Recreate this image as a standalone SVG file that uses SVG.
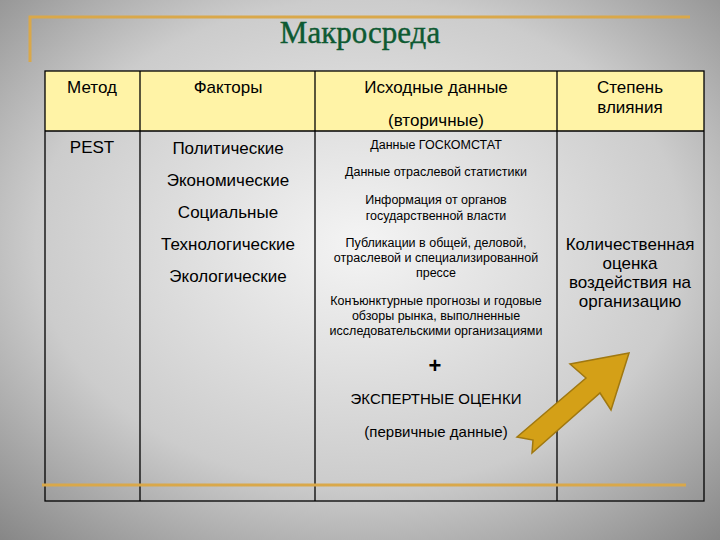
<svg xmlns="http://www.w3.org/2000/svg" width="720" height="540" viewBox="0 0 720 540">
<defs>
<radialGradient id="bg" cx="0.5" cy="0.45" r="0.75"><stop offset="0" stop-color="#f4f4f4"/><stop offset="0.6" stop-color="#cccccc"/><stop offset="1" stop-color="#858585"/></radialGradient>
<style>
.t{font-family:"Liberation Sans",Arial,sans-serif;fill:#000;text-anchor:middle}
.h{font-size:17px}.f{font-size:17px}.s{font-size:12.5px}.g{stroke:#d9a84a;stroke-width:3;fill:none}
.l{stroke:#000;stroke-width:1.3}
</style>
</defs>
<rect width="720" height="540" fill="url(#bg)"/>
<path class="g" d="M30,62 V17 H690"/>
<text x="360" y="43" font-family="Liberation Serif,serif" font-size="31" fill="#0e5a32" stroke="#0e5a32" stroke-width="0.4" text-anchor="middle">Макросреда</text>
<g id="table">
<rect x="45" y="71" width="659" height="60" fill="#fff3a6"/>
<rect x="45" y="71" width="659" height="430" fill="none" class="l"/>
<line class="l" x1="45" y1="131" x2="704" y2="131"/>
<line class="l" x1="140" y1="71" x2="140" y2="501"/>
<line class="l" x1="315" y1="71" x2="315" y2="501"/>
<line class="l" x1="557" y1="71" x2="557" y2="501"/>
</g>
<path class="g" d="M42,485 H686"/>
<g id="header">
<text class="t h" x="92" y="93">Метод</text>
<text class="t h" x="228" y="93">Факторы</text>
<text class="t h" x="436" y="93">Исходные данные</text>
<text class="t h" x="436" y="126">(вторичные)</text>
<text class="t h" x="630" y="93">Степень</text>
<text class="t h" x="630" y="113">влияния</text>
</g>
<g id="pest"><text class="t f" x="92" y="153">PEST</text></g>
<g id="factors">
<text class="t f" x="228" y="154">Политические</text>
<text class="t f" x="228" y="186">Экономические</text>
<text class="t f" x="228" y="218">Социальные</text>
<text class="t f" x="228" y="250">Технологические</text>
<text class="t f" x="228" y="282">Экологические</text>
</g>
<g id="sources">
<text class="t s" x="436" y="149">Данные ГОСКОМСТАТ</text>
<text class="t s" x="436" y="176">Данные отраслевой статистики</text>
<text class="t s" x="436" y="204">Информация от  органов</text>
<text class="t s" x="436" y="220">государственной  власти</text>
<text class="t s" x="436" y="247">Публикации в общей, деловой,</text>
<text class="t s" x="436" y="262">отраслевой и специализированной</text>
<text class="t s" x="436" y="277">прессе</text>
<text class="t s" x="436" y="305">Конъюнктурные прогнозы и годовые</text>
<text class="t s" x="436" y="320">обзоры рынка, выполненные</text>
<text class="t s" x="436" y="335">исследовательскими организациями</text>
<text class="t" x="435" y="373" font-size="22" font-weight="bold">+</text>
<text class="t" x="436" y="404" font-size="15">ЭКСПЕРТНЫЕ ОЦЕНКИ</text>
<text class="t" x="436" y="437" font-size="15">(первичные данные)</text>
</g>
<g id="impact">
<text class="t f" x="630" y="250">Количественная</text>
<text class="t f" x="630" y="269">оценка</text>
<text class="t f" x="630" y="288">воздействия на</text>
<text class="t f" x="630" y="307">организацию</text>
</g>
<g id="arrow">
<polygon points="629,353 611,410 600,393 532,453 533,440 517,437 586,378 570,364" fill="#d4a017" stroke="#a07810" stroke-width="1.5"/>
</g>
</svg>
